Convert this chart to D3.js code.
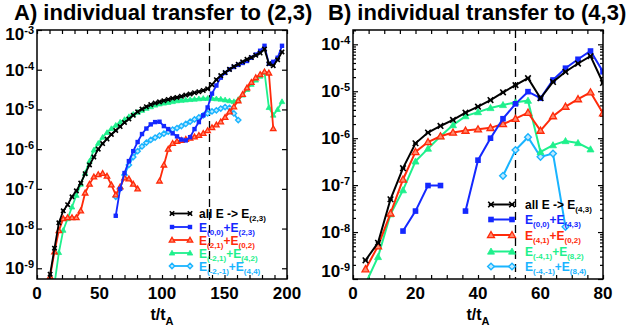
<!DOCTYPE html>
<html><head><meta charset="utf-8">
<script src="https://cdnjs.cloudflare.com/ajax/libs/d3/7.8.5/d3.min.js"></script>
<style>
body{margin:0;background:#fff}
svg{display:block}
text{font-family:"Liberation Sans",Arial,Helvetica,sans-serif;font-weight:bold}
</style>
</head><body>
<svg id="c" width="626" height="329"></svg>
<script>
// ---------------- DATA ----------------
// Panel A: time samples (t/t_A)
const tA = [7,10.5,14,17.5,21,24.5,28,31.5,35,38.5,42,45.5,49,52.5,56,59.5,63,66.5,70,73.5,77,80.5,84,87.5,91,94.5,98,101.5,105,108.5,112,115.5,119,122.5,126,129.5,133,136.5,140,143.5,147,150.5,154,157.5,161,164.5,168,171.5,175,178.5,182,185.5,189,192.5,196];
const allA = [6.3e-11,7.1e-10,3.2e-9,1.4e-8,2.8e-8,4.0e-8,6.3e-8,8.9e-8,1.4e-7,2.4e-7,4.0e-7,6.3e-7,1.0e-6,1.38e-6,1.8e-6,2.34e-6,2.95e-6,3.7e-6,4.7e-6,5.75e-6,7.1e-6,8.7e-6,1.02e-5,1.17e-5,1.32e-5,1.45e-5,1.55e-5,1.66e-5,1.78e-5,1.9e-5,2.0e-5,2.14e-5,2.3e-5,2.45e-5,2.63e-5,2.8e-5,3.0e-5,3.3e-5,4.2e-5,5.6e-5,7.1e-5,8.5e-5,1.02e-4,1.2e-4,1.38e-4,1.58e-4,1.82e-4,2.04e-4,2.3e-4,2.63e-4,3.3e-4,1.41e-4,1.26e-4,1.78e-4,2.8e-4];
const e00A = [null,null,null,null,null,null,null,null,null,null,null,null,null,null,null,null,2.1e-8,1.0e-7,2.5e-7,5.0e-7,8.9e-7,1.51e-6,2.4e-6,3.3e-6,4.2e-6,4.8e-6,4.9e-6,3.8e-6,3.2e-6,2.5e-6,2.1e-6,1.74e-6,1.66e-6,2.0e-6,3.2e-6,4.8e-6,7.1e-6,1.12e-5,2.5e-5,4.0e-5,6.3e-5,8.3e-5,1.02e-4,1.17e-4,1.32e-4,1.48e-4,1.66e-4,2.0e-4,2.4e-4,3.0e-4,4.0e-4,1.41e-4,1.58e-4,2.0e-4,4.0e-4];
const e21A = [1.0e-10,6.2e-10,2.6e-9,8.9e-9,1.78e-8,1.9e-8,1.9e-8,1.9e-8,2.8e-8,7.9e-8,1.32e-7,2.0e-7,2.3e-7,2.45e-7,2.1e-7,1.26e-7,7.1e-8,1.12e-7,1.9e-7,1.78e-7,1.32e-7,1.0e-7,null,null,null,null,1.58e-7,4.0e-7,1.0e-6,1.41e-6,1.58e-6,1.66e-6,1.78e-6,1.9e-6,2.04e-6,2.24e-6,2.5e-6,2.95e-6,3.5e-6,4.1e-6,4.9e-6,6.3e-6,8.7e-6,1.17e-5,1.66e-5,2.4e-5,3.5e-5,4.8e-5,6.3e-5,7.6e-5,8.9e-5,8.3e-5,3.3e-6,null,null];
const em21A = [null,null,4.0e-10,2.5e-9,9.1e-9,1.78e-8,3.5e-8,6.9e-8,1.32e-7,2.5e-7,5.0e-7,9.5e-7,1.41e-6,2.0e-6,2.63e-6,3.3e-6,4.0e-6,4.8e-6,5.6e-6,6.6e-6,7.6e-6,8.5e-6,9.5e-6,1.07e-5,1.17e-5,1.29e-5,1.38e-5,1.45e-5,1.51e-5,1.58e-5,1.66e-5,1.7e-5,1.74e-5,1.78e-5,1.82e-5,1.86e-5,1.9e-5,1.9e-5,1.9e-5,1.86e-5,1.82e-5,1.74e-5,1.66e-5,1.58e-5,1.78e-5,2.3e-5,3.2e-5,4.3e-5,5.5e-5,6.9e-5,8.7e-5,1.12e-5,7.2e-6,1.0e-5,1.58e-5];
const em2m1A = [null,null,null,null,null,null,null,null,null,null,null,null,null,null,null,null,6.3e-8,1.02e-7,2.24e-7,4.0e-7,6.3e-7,8.9e-7,1.17e-6,1.45e-6,1.7e-6,1.95e-6,2.2e-6,2.45e-6,2.75e-6,3.1e-6,3.4e-6,3.8e-6,4.3e-6,4.9e-6,5.6e-6,6.3e-6,7.1e-6,7.9e-6,8.9e-6,9.5e-6,1.05e-5,1.15e-5,1.1e-5,7.9e-6,5.4e-6,null,null,null,null,null,null,null,null,null,null];

// Panel B: time samples
const tB = [4,8,12,16,20,24,28,32,36,40,44,48,52,56,60,64,68,72,76,80];
const allB = [2.5e-9,5.9e-9,5.0e-8,2.3e-7,7.8e-7,1.32e-6,1.82e-6,2.45e-6,3.5e-6,4.7e-6,6.5e-6,9.5e-6,1.35e-5,1.9e-5,7.1e-6,1.58e-5,2.6e-5,3.9e-5,5.6e-5,1.5e-5];
const e00B = [null,null,null,1.05e-8,2.8e-8,9.8e-8,9.8e-8,null,2.8e-8,3.4e-7,1.0e-6,2.6e-6,5.4e-6,9.8e-6,7.1e-6,1.74e-5,3.1e-5,4.8e-5,7.2e-5,2.6e-5];
const e41B = [1.62e-9,5.0e-9,2.5e-8,1.32e-7,5.1e-7,8.3e-7,1.1e-6,1.32e-6,1.45e-6,1.55e-6,1.66e-6,2.0e-6,2.6e-6,3.5e-6,1.45e-6,2.95e-6,4.7e-6,6.8e-6,9.5e-6,3.4e-6];
const em41B = [7.9e-10,2.95e-9,2.4e-8,7.8e-8,3.2e-7,6.0e-7,1.1e-6,1.9e-6,2.95e-6,3.6e-6,4.4e-6,5.1e-6,5.8e-6,6.3e-6,5.1e-7,7.1e-7,8.7e-7,7.9e-7,5.8e-7,null];
const em4m1B = [null,null,null,null,null,null,null,null,null,null,null,1.58e-7,5.6e-7,1.05e-6,4.0e-7,4.7e-7,1.29e-8,null,null,null];

// axis ticks / labels
const xTicksA = [0,50,100,150,200];
const xTicksB = [0,20,40,60,80];
const yExpA = [-9,-8,-7,-6,-5,-4,-3];
const yExpB = [-9,-8,-7,-6,-5,-4];
const titleA = "A) individual transfer to (2,3)";
const titleB = "B) individual transfer to (4,3)";
const legendA = [["all E -> E","(2,3)"],["E","(0,0)","+E","(2,3)"],["E","(2,1)","+E","(0,2)"],["E","(-2,1)","+E","(4,2)"],["E","(-2,-1)","+E","(4,4)"]];
const legendB = [["all E -> E","(4,3)"],["E","(0,0)","+E","(4,3)"],["E","(4,1)","+E","(0,2)"],["E","(-4,1)","+E","(8,2)"],["E","(-4,-1)","+E","(8,4)"]];
const dashA = 138, dashB = 52;

// ---------------- STYLE ----------------
const styles = [
  {color:"#000000", shape:"x"},
  {color:"#1428ff", shape:"square"},
  {color:"#ff2a0a", shape:"tri", open:true, inner:"#ff8a6e"},
  {color:"#1ef08c", shape:"tri"},
  {color:"#19b4ff", shape:"diamond", open:true, inner:"#bfe9ff"}
];

const svg = d3.select("#c");
const defs = svg.append("defs");

function marker(g, st, cx, cy, s){
  const color = st.color;
  if(st.shape==="x"){
    g.append("path").attr("d",`M${cx-s},${cy-s}L${cx+s},${cy+s}M${cx-s},${cy+s}L${cx+s},${cy-s}M${cx-s*0.8},${cy}L${cx+s*0.8},${cy}`)
     .attr("stroke",color).attr("stroke-width",1.6).attr("fill","none");
  } else if(st.shape==="square"){
    g.append("rect").attr("x",cx-s).attr("y",cy-s).attr("width",2*s).attr("height",2*s).attr("fill",color);
  } else if(st.shape==="tri"){
    const r=s*1.25;
    g.append("path").attr("d",`M${cx},${cy-r}L${cx+r},${cy+r*0.75}L${cx-r},${cy+r*0.75}Z`)
     .attr("fill",st.open?st.inner:color).attr("stroke",color).attr("stroke-width",st.open?1.3:0.8);
  } else if(st.shape==="diamond"){
    const r=s*1.2;
    g.append("path").attr("d",`M${cx},${cy-r}L${cx+r},${cy}L${cx},${cy+r}L${cx-r},${cy}Z`)
     .attr("fill",st.open?st.inner:color).attr("stroke",color).attr("stroke-width",1.4);
  }
}

function panel(cfg){
  const {key,x0,x1,y0,y1,xDom,yDom,xMinorStep,xTicks,yExp,minorY,dash,t,series,legend,legX,legRows,title,titleX,ms,lw} = cfg;
  const x = d3.scaleLinear().domain(xDom).range([x0,x1]);
  const y = d3.scaleLog().domain(yDom).range([y1,y0]);
  const g = svg.append("g");

  // title
  g.append("text").attr("x",titleX).attr("y",20).attr("font-size",22).attr("fill","#000").text(title);

  // x ticks (inward, top & bottom)
  const xt = d3.range(xDom[0], xDom[1]+0.001, xMinorStep);
  g.append("g").attr("transform",`translate(0,${y1})`).call(d3.axisBottom(x).tickValues(xt).tickSize(-4).tickFormat("")).call(a=>a.select(".domain").remove());
  g.append("g").attr("transform",`translate(0,${y0})`).call(d3.axisTop(x).tickValues(xt).tickSize(-4).tickFormat("")).call(a=>a.select(".domain").remove());
  // y major ticks
  const yMaj = yExp.map(e=>Math.pow(10,e));
  g.append("g").attr("transform",`translate(${x0},0)`).call(d3.axisLeft(y).tickValues(yMaj).tickSize(-5).tickFormat("")).call(a=>a.select(".domain").remove());
  g.append("g").attr("transform",`translate(${x1},0)`).call(d3.axisRight(y).tickValues(yMaj).tickSize(-5).tickFormat("")).call(a=>a.select(".domain").remove());
  if(minorY){
    const mins=[];
    for(const e of yExp.concat([yExp[yExp.length-1]])){
      for(let k=2;k<=9;k++){const v=k*Math.pow(10,e); if(v>yDom[0]&&v<yDom[1]) mins.push(v);}
    }
    g.append("g").attr("transform",`translate(${x0},0)`).call(d3.axisLeft(y).tickValues(mins).tickSize(-3).tickFormat("")).call(a=>a.select(".domain").remove());
    g.append("g").attr("transform",`translate(${x1},0)`).call(d3.axisRight(y).tickValues(mins).tickSize(-3).tickFormat("")).call(a=>a.select(".domain").remove());
  }
  g.selectAll(".tick line").attr("stroke","#000").attr("stroke-width",1.2);

  // x tick labels
  xTicks.forEach(v=>{
    g.append("text").attr("x",x(v)).attr("y",y1+20).attr("text-anchor","middle").attr("font-size",17).text(v);
  });
  // x title
  const xt2 = g.append("text").attr("x",(x0+x1)/2).attr("y",320).attr("text-anchor","middle").attr("font-size",16);
  xt2.append("tspan").text("t/t");
  xt2.append("tspan").attr("font-size",11).attr("dy",5).text("A");

  // y tick labels
  yExp.forEach(e=>{
    const yy = Math.max(y0+10, Math.min(y1-2, y(Math.pow(10,e))+6));
    const tx = g.append("text").attr("x",x0-3).attr("y",yy).attr("text-anchor","end").attr("font-size",17);
    tx.append("tspan").text("10");
    tx.append("tspan").attr("font-size",11).attr("dy",-6).text(String(e));
  });

  // clip
  defs.append("clipPath").attr("id","clip"+key).append("rect").attr("x",x0).attr("y",y0).attr("width",x1-x0).attr("height",y1-y0);
  const dg = g.append("g").attr("clip-path",`url(#clip${key})`);

  // dashed line
  dg.append("line").attr("x1",x(dash)).attr("x2",x(dash)).attr("y1",y0).attr("y2",y1)
    .attr("stroke","#000").attr("stroke-width",1.3).attr("stroke-dasharray","8,5");

  // series drawn in reverse order so the black total is on top
  const order=[4,3,2,1,0];
  order.forEach(i=>{
    const vals = series[i], st = styles[i];
    const pts = t.map((tt,j)=>({t:tt,v:vals[j]}));
    const line = d3.line().defined(d=>d.v!=null).x(d=>x(d.t)).y(d=>y(d.v));
    dg.append("path").datum(pts).attr("d",line).attr("fill","none").attr("stroke",st.color).attr("stroke-width",lw);
    const mg = dg.append("g");
    pts.filter(d=>d.v!=null).forEach(d=>marker(mg,st,x(d.t),y(d.v),ms));
  });

  // frame
  g.append("rect").attr("x",x0).attr("y",y0).attr("width",x1-x0).attr("height",y1-y0)
    .attr("fill","none").attr("stroke","#000").attr("stroke-width",1.5);

  // legend
  legend.forEach((parts,i)=>{
    const st = styles[i], ry = legRows[i];
    g.append("line").attr("x1",legX[0]).attr("x2",legX[1]).attr("y1",ry).attr("y2",ry).attr("stroke",st.color).attr("stroke-width",lw);
    marker(g,st,legX[0],ry,ms);
    marker(g,st,legX[1],ry,ms);
    const tx = g.append("text").attr("x",legX[2]).attr("y",ry+4.5).attr("font-size",12).attr("fill",st.color);
    parts.forEach((p,k)=>{
      const sp = tx.append("tspan").text(p);
      if(k%2===1){ sp.attr("font-size",8).attr("dy",3); }
      else if(k>0){ sp.attr("dy",-3); }
    });
  });
}

panel({key:"A",x0:37,x1:287,y0:30,y1:279,xDom:[0,200],yDom:[Math.pow(10,-9.27),1e-3],xMinorStep:10,xTicks:xTicksA,yExp:yExpA,minorY:false,dash:dashA,
  t:tA,series:[allA,e00A,e21A,em21A,em2m1A],legend:legendA,legX:[172,190,199],legRows:[213.5,227,240,253,266],
  title:titleA,titleX:14,ms:2.2,lw:1.8});
panel({key:"B",x0:353,x1:603,y0:30,y1:279,xDom:[0,80],yDom:[1e-9,Math.pow(10,-3.695)],xMinorStep:5,xTicks:xTicksB,yExp:yExpB,minorY:true,dash:dashB,
  t:tB,series:[allB,e00B,e41B,em41B,em4m1B],legend:legendB,legX:[491,512,525],legRows:[204.5,219.5,235,251.5,266.5],
  title:titleB,titleX:328,ms:2.8,lw:2});
</script>
</body></html>
